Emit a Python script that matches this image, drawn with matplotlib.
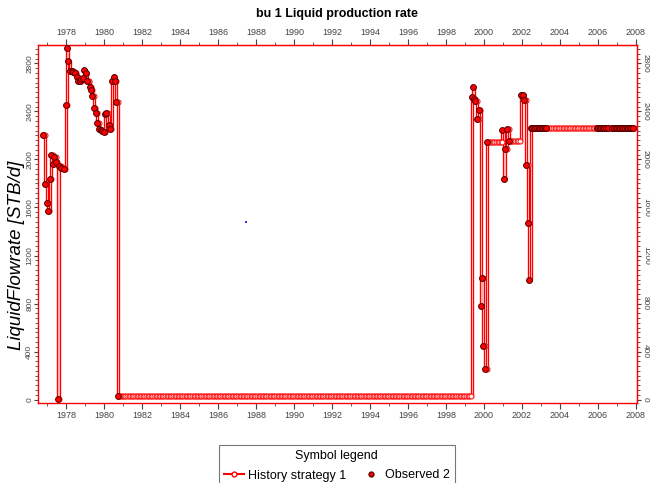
import numpy as np
import matplotlib
matplotlib.use('Agg')
import matplotlib.pyplot as plt
from matplotlib.ticker import MultipleLocator
from matplotlib.lines import Line2D

plt.rcParams['font.family'] = ['Liberation Sans Narrow', 'Liberation Sans', 'DejaVu Sans']

# Observed rates (STB/d)
obs_year = [1976.80, 1976.89, 1977.01, 1977.08, 1977.15, 1977.24, 1977.31, 1977.39, 1977.48,
            1977.57, 1977.66, 1977.76, 1977.89, 1977.99, 1978.06, 1978.13, 1978.20, 1978.31,
            1978.39, 1978.48, 1978.59, 1978.66, 1978.73, 1978.80, 1978.89, 1978.97, 1979.04,
            1979.13, 1979.24, 1979.32, 1979.39, 1979.48, 1979.57, 1979.64, 1979.73, 1979.83,
            1979.92, 1980.01, 1980.06, 1980.13, 1980.24, 1980.32, 1980.43, 1980.52, 1980.59,
            1980.66, 1980.73,
            1999.38, 1999.42, 1999.46, 1999.55, 1999.64, 1999.73, 1999.82, 1999.88, 1999.97,
            2000.06, 2000.15, 2000.97, 2001.04, 2001.13, 2001.22, 2001.31,
            2001.94, 2002.04, 2002.13, 2002.22, 2002.31, 2002.39,
            2002.45, 2002.53, 2002.62, 2002.70, 2002.78, 2002.87, 2002.95, 2003.03, 2003.12,
            2003.20, 2003.28,
            2005.92, 2006.00, 2006.08, 2006.17, 2006.25, 2006.33, 2006.42, 2006.50,
            2006.75, 2006.83, 2006.92, 2007.00, 2007.08, 2007.17, 2007.25, 2007.33, 2007.42,
            2007.50, 2007.58, 2007.67, 2007.75, 2007.83]
obs_rate = [2202, 1793, 1635, 1571, 1840, 2038, 1960, 2021, 1982,
            8, 1946, 1932, 1924, 2455, 2933, 2819, 2741, 2741,
            2730, 2719, 2688, 2650, 2650, 2669, 2675, 2747, 2719,
            2650, 2605, 2577, 2533, 2425, 2388, 2302, 2258, 2246,
            2238, 2229, 2377, 2391, 2285, 2252, 2655, 2688, 2658,
            2477, 28,
            2522, 2600, 2508, 2488, 2335, 2413, 783, 1012, 446,
            253, 2146, 2246, 1839, 2084, 2252, 2154,
            2538, 2536, 2494, 1951, 1468, 992,
            2266, 2266, 2266, 2266, 2266, 2266, 2266, 2266, 2266,
            2266, 2266,
            2266, 2266, 2266, 2266, 2266, 2266, 2266, 2266,
            2266, 2266, 2266, 2266, 2266, 2266, 2266, 2266, 2266,
            2266, 2266, 2266, 2266, 2266]

# History strategy: step curve through the observed values, held to the end date
hist_year = obs_year + [2007.92]
hist_rate = obs_rate + [2266]

# stray blue mark in the plot area
blue_year = [1987.47]
blue_rate = [1483]

xticks = list(range(1978, 2009, 2))
yticks = list(range(0, 2801, 400))

fig = plt.figure(figsize=(6.5, 4.83), dpi=100)
ax = fig.add_axes([38/650, 1 - 403/483, 599/650, 358/483])

# history line (steps) and monthly symbols along it
ax.step(hist_year, hist_rate, where='post', color='red', lw=2.4, zorder=2)
ax.step(hist_year, hist_rate, where='post', color='#ffd0d0', lw=0.6, zorder=2)
hy = np.array(hist_year)
hr = np.array(hist_rate)
m_year = np.arange(hy[0], hy[-1] + 0.001, 1 / 12)
m_rate = hr[np.searchsorted(hy, m_year, side='right') - 1]
ax.plot(m_year, m_rate, ls='none', marker='o', ms=3.6, mfc='white', mec='red',
        mew=0.8, alpha=0.9, zorder=3)

ax.plot(obs_year, obs_rate, ls='none', marker='o', ms=4.2, mfc='red', mec='#500000',
        mew=0.7, zorder=4)
ax.plot(blue_year, blue_rate, ls='none', marker='s', ms=1.6, color='#3030ff', mew=0)

ax.set_xlim(1976.53, 2008.05)
ax.set_ylim(-29, 2954)

for s in ax.spines.values():
    s.set_color('red')
    s.set_linewidth(1.0)

tcol = '#444444'
ax.set_xticks(xticks)
ax.set_yticks(yticks)
ax.xaxis.set_minor_locator(MultipleLocator(1))
ax.yaxis.set_minor_locator(MultipleLocator(40))
ax.tick_params(axis='x', which='major', direction='out', length=4, width=0.8,
               colors=tcol, labelsize=6.5, pad=2)
ax.tick_params(axis='y', which='major', direction='out', length=3, width=0.8,
               colors=tcol, labelsize=6, pad=0.5, labelrotation=90)
ax.tick_params(axis='both', which='minor', direction='out', length=2, width=0.6, colors=tcol)
for lab in ax.get_yticklabels():
    lab.set_va('center')

top = ax.secondary_xaxis('top')
top.set_xticks(xticks)
top.xaxis.set_minor_locator(MultipleLocator(1))
top.tick_params(which='major', direction='out', length=4, width=0.8, colors=tcol,
                labelsize=6.5, pad=2)
top.tick_params(which='minor', direction='out', length=2, width=0.6, colors=tcol)
top.spines['top'].set_color('red')

right = ax.secondary_yaxis('right')
right.set_yticks(yticks)
right.yaxis.set_minor_locator(MultipleLocator(40))
right.tick_params(which='major', direction='out', length=3, width=0.8, colors=tcol,
                  labelsize=6, pad=0.5, labelrotation=-90)
right.tick_params(which='minor', direction='out', length=2, width=0.6, colors=tcol)
right.spines['right'].set_color('red')
for lab in right.get_yticklabels():
    lab.set_va('center')

fig.text(17/650, 1 - 255/483, 'LiquidFlowrate [STB/d]', rotation=90, ha='center',
         va='center', fontsize=13.5, fontstyle='italic')
fig.text(0.518, 1 - 14/483, 'bu 1 Liquid production rate', ha='center', va='center',
         fontsize=9, fontweight='bold')

handles = [Line2D([], [], color='red', lw=1.5, marker='o', ms=3.5, mfc='white', mec='red'),
           Line2D([], [], ls='none', marker='o', ms=3.5, mfc='red', mec='#600000')]
leg = fig.legend(handles, ['History strategy 1', 'Observed 2'], title='Symbol legend',
                 ncol=2, loc='upper center', bbox_to_anchor=(0.518, 1 - 445/483),
                 borderaxespad=0, fontsize=9, title_fontsize=9, frameon=True,
                 fancybox=False, edgecolor='#555555', handlelength=1.6,
                 handletextpad=0.3, columnspacing=1.2, borderpad=0.4, labelspacing=0.6)
leg.get_frame().set_linewidth(0.8)

fig.savefig('out.png', dpi=100)
